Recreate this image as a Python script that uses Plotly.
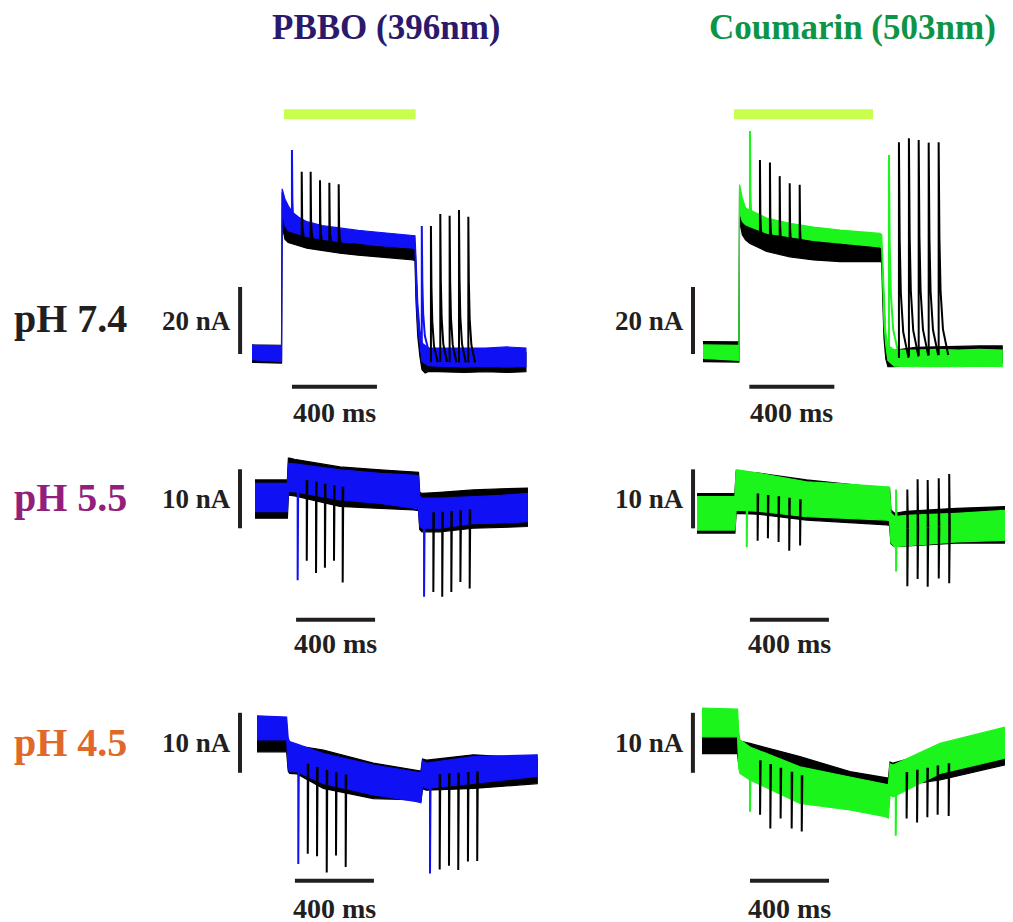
import numpy as np
import plotly.graph_objects as go

W, H = 1013, 922
OFF = 8  # page body margin of the html page (screen px -> figure px)

# ------------------------------------------------------------------ DATA
# Each trace: time points (ms), lower / upper envelope of the noisy current (nA)
# spikes: (time ms, peak nA)

# ---- pH 7.4, PBBO (blue) vs control (black)
P1_T_BLUE = [0, 139, 142, 146, 155, 170, 190, 220, 258, 330, 414, 500, 570, 650, 758, 767, 772, 780, 790, 800, 830, 900, 1000, 1100, 1200, 1289]
P1_LO_BLUE = [-2.0, -2.6, 40, 41, 38, 36.5, 36, 35.5, 34.7, 34, 33.2, 32.8, 32.2, 31.8, 31.3, 31, 18, 8, 2, -2.5, -3.8, -4, -4.2, -4, -4.2, -4]
P1_HI_BLUE = [2.3, 2.2, 49, 48, 46, 44, 42, 40.5, 39.2, 38, 37.2, 36.6, 36.2, 35.8, 35.2, 35, 28, 15, 7, 3, 1.5, 1.5, 1.6, 1.5, 1.8, 1.5]
P1_T_BLACK = [0, 139, 142, 146, 155, 170, 190, 220, 258, 330, 414, 500, 570, 650, 758, 767, 772, 780, 790, 800, 815, 830, 900, 1000, 1100, 1200, 1289]
P1_LO_BLACK = [-2.8, -3, 38, 37, 34, 33, 32.5, 32, 31.3, 30.5, 29.8, 29.2, 28.7, 28.3, 27.8, 27.5, 15, 5, -1, -5, -6, -5.5, -5.6, -5.8, -5.6, -5.8, -5.6]
P1_HI_BLACK = [2.4, 2.3, 48, 46, 43, 40, 38.5, 37.5, 36.7, 35.5, 34.7, 34.2, 33.7, 33.2, 32.7, 32.5, 25, 12, 4, 0, -1, 0, 0.2, 0, 0.3, 0, 0.2]
P1_SPK_BLUE = [(188, 60.6), (799, 37.9)]
P1_SPK_BLACK = [(234, 54.1), (276, 54.1), (320, 51.6), (364, 50.8), (408, 50.4),
                (842, 37.9), (886, 41.5), (930, 41.0), (974, 42.7), (1018, 40.7)]

# ---- pH 7.4, Coumarin (green) vs control (black)
P2_T = [0, 169, 172, 176, 185, 200, 221, 300, 409, 520, 645, 760, 833, 841, 846, 852, 860, 870, 900, 1000, 1100, 1200, 1300, 1408]
P2_LO_GREEN = [-1.9, -2.5, 42, 41, 39, 38, 37.4, 35.5, 34.4, 33.3, 32.4, 31.8, 31.4, 31, 20, 8, 2, -2.5, -4.2, -4.4, -4.3, -4.4, -4.2, -4.4]
P2_HI_GREEN = [2.1, 2.0, 50, 48.5, 46, 43, 42.4, 40, 38.4, 37.3, 36.4, 35.8, 35.4, 35, 28, 15, 6, 2, 0.6, 0.6, 0.8, 0.6, 0.8, 0.6]
P2_LO_BLACK = [-2.9, -3, 40, 38, 35, 33.5, 32.4, 30, 28.4, 27.5, 27, 27, 27, 26.8, 15, 4, -2, -4.4, -4.4, -3.6, -3.4, -3.4, -3.2, -3.2]
P2_HI_BLACK = [3.1, 3, 48.4, 46, 42, 39, 38.4, 36, 34.4, 33.2, 32.4, 31.8, 31.4, 31, 22, 10, 2, -1.4, 0.5, 1.4, 1.6, 1.8, 1.8, 1.8]
P2_SPK_GREEN = [(221, 66.0), (875, 58.8)]
P2_SPK_BLACK = [(268, 57.3), (315, 56.6), (361, 52.5), (408, 50.4), (455, 49.9),
                (922, 62.6), (969, 63.8), (1015, 63.3), (1062, 62.5), (1109, 62.6)]

# ---- pH 5.5, PBBO
P3_T = [0, 164, 169, 175, 200, 430, 633, 802, 828, 834, 845, 937, 1104, 1250, 1379]
P3_LO_BLUE = [-2.5, -2.5, 0.9, 0.9, 0.9, -0.5, -1.1, -1.9, -2.0, -5.0, -5.3, -5.3, -4.5, -4.4, -4.2]
P3_HI_BLUE = [2.3, 2.3, 5.7, 5.7, 5.6, 4.6, 4.0, 3.7, 3.6, 0.2, -0.2, -0.2, 0.05, 0.3, 0.6]
P3_LO_BLACK = [-3.6, -3.6, 0.3, 0.3, 0.2, -1.6, -1.9, -2.2, -2.3, -5.5, -5.9, -5.9, -5.3, -5.1, -5.0]
P3_HI_BLACK = [2.9, 2.9, 6.6, 6.6, 6.4, 5.1, 4.6, 4.3, 4.2, 0.8, 0.6, 0.8, 1.2, 1.4, 1.5]
P3_SPK_BLUE = [(216, -14.1), (856, -16.9)]
P3_SPK_BLACK = [(262, -10.8), (309, -12.9), (354, -12.0), (400, -10.8), (444, -14.5),
                (903, -16.1), (948, -16.9), (994, -16.1), (1040, -14.4), (1087, -15.5)]

# ---- pH 5.5, Coumarin
P4_T = [0, 192, 198, 205, 304, 555, 760, 960, 975, 982, 1000, 1060, 1315, 1581]
P4_LO_GREEN = [-2.9, -2.9, 0.5, 0.5, 0.3, -0.6, -0.9, -1.2, -1.3, -5.0, -5.7, -5.6, -4.9, -4.6]
P4_HI_GREEN = [2.8, 2.8, 7.3, 7.3, 6.8, 5.3, 4.9, 4.5, 4.4, 0.0, -0.6, -0.4, -0.05, 0.5]
P4_LO_BLACK = [-3.4, -3.4, -0.05, -0.05, -0.2, -1.2, -1.6, -2.0, -2.1, -5.2, -5.7, -5.6, -5.1, -5.1]
P4_HI_BLACK = [3.3, 3.3, 7.0, 7.0, 6.8, 5.6, 4.9, 4.2, 4.1, 0.5, -0.05, 0.3, 0.8, 1.1]
P4_SPK_GREEN = [(252, -5.8), (1008, 4.0), (1008, -9.9)]
P4_SPK_BLACK = [(307, -4.7), (359, -4.3), (413, -4.9), (467, -6.4), (522, -5.5),
                (1065, 4.0), (1065, -12.4), (1117, 5.7), (1117, -11.2), (1168, 5.6), (1168, -12.5),
                (1224, 5.9), (1224, -11.1), (1277, 6.6), (1277, -11.9)]

# ---- pH 4.5, PBBO
P5_T = [0, 150, 158, 165, 203, 336, 589, 809, 830, 838, 859, 1096, 1419]
P5_LO_BLUE = [-0.8, -0.8, -5.5, -6.1, -6.1, -8.1, -10.0, -11.1, -11.3, -8.5, -8.9, -8.1, -6.9]
P5_HI_BLUE = [3.2, 3.0, -0.5, -1.1, -1.5, -3.1, -5.0, -6.1, -6.3, -4.3, -4.7, -3.6, -3.3]
P5_LO_BLACK = [-2.8, -2.8, -6.0, -6.4, -6.5, -8.9, -10.6, -10.8, -11.0, -9.0, -9.2, -8.9, -8.1]
P5_HI_BLACK = [0.6, 0.6, -1.0, -1.3, -1.8, -2.5, -4.7, -5.8, -6.0, -4.0, -4.2, -3.3, -3.9]
P5_SPK_BLUE = [(209, -21.5), (876, -23.1)]
P5_SPK_BLACK = [(257, -19.8), (304, -20.2), (353, -22.9), (400, -20.1), (449, -22.0),
                (925, -22.4), (972, -21.8), (1019, -22.5), (1068, -21.1), (1115, -21.0)]

# ---- pH 4.5, Coumarin
P6_T = [0, 180, 186, 192, 243, 496, 749, 927, 944, 952, 968, 1205, 1570]
P6_LO_GREEN = [-0.3, -0.3, -5.5, -6.4, -7.5, -11.4, -12.5, -13.6, -13.8, -10.0, -10.3, -6.4, -3.6]
P6_HI_GREEN = [4.5, 4.3, 0.5, -0.8, -2.0, -5.3, -7.0, -8.1, -8.3, -4.8, -5.0, -1.4, 1.6]
P6_LO_BLACK = [-3.1, -3.1, -5.0, -5.5, -5.8, -9.7, -10.3, -10.8, -11.0, -8.4, -8.6, -7.5, -4.7]
P6_HI_BLACK = [-0.3, -0.3, -0.6, -1.0, -1.4, -3.6, -6.1, -7.0, -7.2, -4.5, -4.7, -2.5, -0.6]
P6_SPK_GREEN = [(243, -12.8), (981, -16.8)]
P6_SPK_BLACK = [(294, -13.3), (346, -15.6), (398, -13.9), (454, -15.6), (505, -16.1),
                (1036, -13.9), (1089, -14.6), (1141, -13.7), (1193, -13.3), (1249, -13.5)]

# illumination bar (ms on, ms off, level nA) for the pH 7.4 panels
STIM = {1: (150, 770, 71.3), 2: (146, 800, 71.0)}
# scale bars: horizontal (start ms, level nA), vertical (time ms, bottom nA, length nA)
HBAR = {1: (188, -10.1), 2: (218, -10.4), 3: (208, -20.8), 4: (268, -18.1), 5: (192, -24.3), 6: (243, -24.3)}
HBAR_LEN = 400
VBAR = {1: (-56, -0.3, 20), 2: (-47, -0.6, 20), 3: (-76, -5.3, 10), 4: (-20, -2.6, 10), 5: (-86, -6.3, 10), 6: (-46, -6.3, 10)}

ROW_LABELS = ["pH 7.4", "pH 5.5", "pH 4.5"]
COL_TITLES = ["PBBO (396nm)", "Coumarin (503nm)"]

# ------------------------------------------------------------------ STYLE / LAYOUT
BLUE = "#1010F5"
GREEN = "#1CF51C"
BLACK = "#000000"
BAR = "#231F20"
STIM_COL = "#C8FF4E"
ROW_COLORS = ["#231F20", "#931F7D", "#E0692A"]
TITLE_COLORS = ["#2B1A6B", "#0E9447"]
FONT = "Liberation Serif, Times New Roman, serif"

# pixel calibration of each panel in screen px (origin px for t=0 / I=0, px per unit, plotting box)
CAL = {
    1: dict(x0=252, sx=0.2125, y0=353, sy=3.35, box=(232, 548, 95, 402)),
    2: dict(x0=703, sx=0.2125, y0=352, sy=3.35, box=(685, 1021, 95, 402)),
    3: dict(x0=255, sx=0.1975, y0=497, sy=5.9, box=(232, 548, 440, 630)),
    4: dict(x0=697, sx=0.1975, y0=513, sy=5.9, box=(685, 1021, 440, 630)),
    5: dict(x0=257, sx=0.1975, y0=735, sy=6.0, box=(232, 548, 690, 892)),
    6: dict(x0=702, sx=0.1975, y0=735, sy=6.0, box=(685, 1021, 690, 892)),
}
TAIL = {1: 32, 2: 45, 3: 3, 4: 3, 5: 3, 6: 3}
ON_TAIL = {1: 10, 2: 10}
# decay profile of a spike: (fraction of tail, fraction of height)
SPIKE_PROFILE = [(0.0, 1.0), (0.08, 0.55), (0.2, 0.3), (0.45, 0.12), (1.0, 0.0)]

PANELS = {
    1: [(P1_T_BLACK, P1_LO_BLACK, P1_HI_BLACK, P1_SPK_BLACK, BLACK), (P1_T_BLUE, P1_LO_BLUE, P1_HI_BLUE, P1_SPK_BLUE, BLUE)],
    2: [(P2_T, P2_LO_BLACK, P2_HI_BLACK, P2_SPK_BLACK, BLACK), (P2_T, P2_LO_GREEN, P2_HI_GREEN, P2_SPK_GREEN, GREEN)],
    3: [(P3_T, P3_LO_BLACK, P3_HI_BLACK, P3_SPK_BLACK, BLACK), (P3_T, P3_LO_BLUE, P3_HI_BLUE, P3_SPK_BLUE, BLUE)],
    4: [(P4_T, P4_LO_BLACK, P4_HI_BLACK, P4_SPK_BLACK, BLACK), (P4_T, P4_LO_GREEN, P4_HI_GREEN, P4_SPK_GREEN, GREEN)],
    5: [(P5_T, P5_LO_BLACK, P5_HI_BLACK, P5_SPK_BLACK, BLACK), (P5_T, P5_LO_BLUE, P5_HI_BLUE, P5_SPK_BLUE, BLUE)],
    6: [(P6_T, P6_LO_BLACK, P6_HI_BLACK, P6_SPK_BLACK, BLACK), (P6_T, P6_LO_GREEN, P6_HI_GREEN, P6_SPK_GREEN, GREEN)],
}


def fx(px):
    return (px - OFF) / W


def fy(py):
    return 1 - (py - OFF) / H


def spike_path(t_env, lo, hi, spikes, tail, on_tail, off_time):
    mid = (np.array(lo) + np.array(hi)) / 2.0
    xs, ys = [], []
    for t, peak in spikes:
        base = float(np.interp(t, t_env, mid))
        tl = tail if (on_tail is None or t > off_time) else on_tail
        xs.append(t)
        ys.append(base)
        for ft, fh in SPIKE_PROFILE:
            xs.append(t + ft * tl)
            ys.append(base + fh * (peak - base))
        xs.append(None)
        ys.append(None)
    return xs, ys


fig = go.Figure()
layout_axes = {}

for p, traces in PANELS.items():
    c = CAL[p]
    L, R, T, B = c["box"]
    sfx = "" if p == 1 else str(p)
    layout_axes["xaxis" + sfx] = dict(domain=[max(0, fx(L)), min(1, fx(R))],
                                      range=[(L - c["x0"]) / c["sx"], (min(R, W + OFF) - c["x0"]) / c["sx"]],
                                      visible=False, fixedrange=True, anchor="y" + sfx)
    layout_axes["yaxis" + sfx] = dict(domain=[fy(B), fy(T)],
                                      range=[(c["y0"] - B) / c["sy"], (c["y0"] - T) / c["sy"]],
                                      visible=False, fixedrange=True, anchor="x" + sfx)
    xa, ya = "x" + sfx, "y" + sfx

    for t, lo, hi, spk, col in traces:
        fig.add_trace(go.Scatter(x=list(t) + list(t)[::-1], y=list(hi) + list(lo)[::-1],
                                 fill="toself", fillcolor=col, mode="lines",
                                 line=dict(color=col, width=1.2), xaxis=xa, yaxis=ya,
                                 hoverinfo="skip", showlegend=False))
    off_time = 700 if p in (1, 2) else 0
    for t, lo, hi, spk, col in reversed(traces):
        xs, ys = spike_path(t, lo, hi, spk, TAIL[p], ON_TAIL.get(p), off_time)
        fig.add_trace(go.Scatter(x=xs, y=ys, mode="lines", line=dict(color=col, width=2.0),
                                 xaxis=xa, yaxis=ya, hoverinfo="skip", showlegend=False))

    if p in STIM:
        on, off, lvl = STIM[p]
        fig.add_trace(go.Scatter(x=[on, off], y=[lvl, lvl], mode="lines",
                                 line=dict(color=STIM_COL, width=10), xaxis=xa, yaxis=ya,
                                 hoverinfo="skip", showlegend=False))
    hs, hl = HBAR[p]
    fig.add_trace(go.Scatter(x=[hs, hs + HBAR_LEN], y=[hl, hl], mode="lines",
                             line=dict(color=BAR, width=4), xaxis=xa, yaxis=ya,
                             hoverinfo="skip", showlegend=False))
    vt, vb, vl = VBAR[p]
    fig.add_trace(go.Scatter(x=[vt, vt], y=[vb, vb + vl], mode="lines",
                             line=dict(color=BAR, width=4), xaxis=xa, yaxis=ya,
                             hoverinfo="skip", showlegend=False))
    row = (p - 1) // 2
    fig.add_annotation(x=hs + HBAR_LEN / 2, y=hl, xref=xa, yref=ya, text="400 ms",
                       showarrow=False, yanchor="middle", yshift=[-26, -24, -28][row],
                       font=dict(family=FONT, size=28, color=BAR, weight="bold"))
    fig.add_annotation(x=vt, y=vb + vl / 2, xref=xa, yref=ya, text=f"{vl} nA",
                       showarrow=False, xanchor="right", yanchor="middle", xshift=-7,
                       font=dict(family=FONT, size=27, color=BAR, weight="bold"))

for i, (txt, xc) in enumerate(zip(COL_TITLES, [386, 852])):
    fig.add_annotation(x=fx(xc), y=fy(28), xref="paper", yref="paper", text=txt,
                       showarrow=False, xanchor="center", yanchor="middle", borderpad=0,
                       font=dict(family=FONT, size=35, color=TITLE_COLORS[i], weight="bold"))
for i, (txt, yc) in enumerate(zip(ROW_LABELS, [318, 497, 742])):
    fig.add_annotation(x=fx(12), y=fy(yc), xref="paper", yref="paper", text=txt,
                       showarrow=False, xanchor="left", yanchor="middle",
                       font=dict(family=FONT, size=40, color=ROW_COLORS[i], weight="bold"))

fig.update_layout(width=W, height=H, margin=dict(l=0, r=0, t=0, b=0),
                  paper_bgcolor="white", plot_bgcolor="rgba(0,0,0,0)", showlegend=False,
                  **layout_axes)
fig.write_html("out.html")
